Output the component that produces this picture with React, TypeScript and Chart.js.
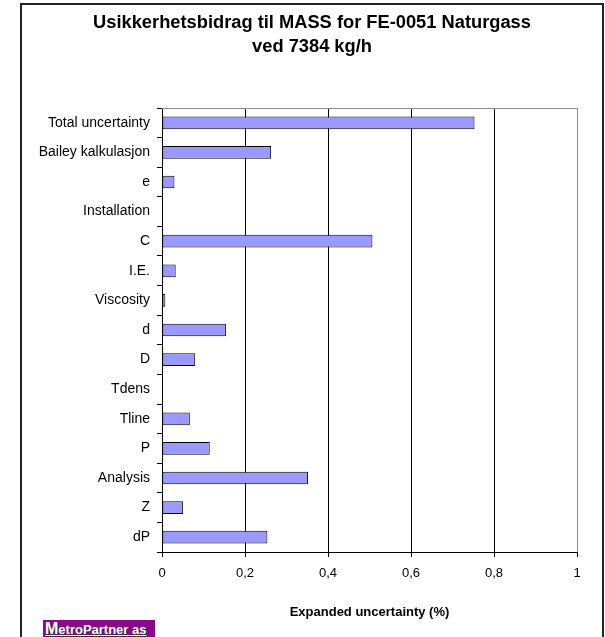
import React, { useEffect, useRef } from "react";
import { Chart, registerables } from "chart.js";

Chart.register(...registerables);

const categories = [
  "Total uncertainty",
  "Bailey kalkulasjon",
  "e",
  "Installation",
  "C",
  "I.E.",
  "Viscosity",
  "d",
  "D",
  "Tdens",
  "Tline",
  "P",
  "Analysis",
  "Z",
  "dP",
];

const contributions = [
  0.753, 0.263, 0.03, 0, 0.507, 0.033, 0.008, 0.154, 0.08, 0, 0.067, 0.115,
  0.352, 0.051, 0.254,
];

const titleLines = ["Usikkerhetsbidrag til MASS for FE-0051 Naturgass", "ved 7384 kg/h"];
const axisTitle = "Expanded uncertainty (%)";
const xMin = 0;
const xMax = 1;
const xStep = 0.2;

const FONT = "'Liberation Sans', Arial, sans-serif";

// two-line heading centred across the whole canvas, plus a grey top edge on the plot area
const headingAndFrame = {
  id: "headingAndFrame",
  afterDatasetsDraw(chart: any) {
    const { ctx, chartArea } = chart;
    ctx.save();
    ctx.strokeStyle = "#8c8c8c";
    ctx.lineWidth = 1;
    ctx.beginPath();
    ctx.moveTo(chartArea.left, Math.round(chartArea.top) + 0.5);
    ctx.lineTo(chartArea.right, Math.round(chartArea.top) + 0.5);
    ctx.stroke();
    ctx.restore();
  },
  afterDraw(chart: any) {
    const { ctx, width } = chart;
    ctx.save();
    ctx.fillStyle = "#000";
    ctx.font = `bold 18.3px ${FONT}`;
    ctx.textAlign = "center";
    ctx.textBaseline = "alphabetic";
    titleLines.forEach((line, i) => {
      ctx.fillText(line, width / 2, 23 + i * 24);
    });
    ctx.restore();
  },
};

export default function App() {
  const canvasRef = useRef<HTMLCanvasElement | null>(null);

  useEffect(() => {
    if (!canvasRef.current) return;
    const chart = new Chart(canvasRef.current, {
      type: "bar",
      data: {
        labels: categories,
        datasets: [
          {
            data: contributions,
            backgroundColor: "#9999ff",
            borderColor: "#000",
            borderWidth: 1,
            borderSkipped: false,
            barPercentage: 0.43,
            categoryPercentage: 1,
          },
        ],
      },
      plugins: [headingAndFrame],
      options: {
        indexAxis: "y",
        animation: false,
        responsive: false,
        maintainAspectRatio: false,
        devicePixelRatio: 1,
        layout: { padding: { left: 0, right: 25, top: 103, bottom: 0 } },
        plugins: {
          legend: { display: false },
          tooltip: { enabled: false },
          title: { display: false },
        },
        scales: {
          x: {
            min: xMin,
            max: xMax,
            afterFit(scale: any) {
              scale.height = 85;
            },
            ticks: {
              stepSize: xStep,
              color: "#000",
              padding: 9,
              font: { family: FONT, size: 13 },
              callback: (v: any) => String(Math.round(Number(v) * 10) / 10).replace(".", ","),
            },
            grid: {
              drawOnChartArea: true,
              drawTicks: true,
              tickLength: 5,
              color: (c: any) => (c.tick && c.tick.value === xMax ? "#8c8c8c" : "#000"),
              tickColor: "#000",
              lineWidth: 1,
            },
            border: { display: true, color: "#000", width: 1 },
            title: {
              display: true,
              text: axisTitle,
              color: "#000",
              font: { family: FONT, size: 13, weight: "bold" },
              padding: { top: 4, bottom: 17 },
            },
          },
          y: {
            afterFit(scale: any) {
              scale.width = 140;
            },
            ticks: {
              color: "#000",
              padding: 7,
              font: { family: FONT, size: 14 },
              autoSkip: false,
            },
            grid: {
              offset: true,
              drawOnChartArea: false,
              drawTicks: true,
              tickLength: 5,
              color: "#000",
            },
            border: { display: true, color: "#000", width: 1 },
          },
        },
      },
    });
    return () => chart.destroy();
  }, []);

  return (
    <div
      style={{
        position: "fixed",
        left: 0,
        top: 0,
        width: 605,
        height: 637,
        overflow: "hidden",
        background: "#fff",
      }}
    >
      <div
        style={{
          position: "absolute",
          left: 20,
          top: 3,
          width: 580,
          height: 700,
          border: "2px solid #222",
        }}
      />
      <canvas
        ref={canvasRef}
        width={580}
        height={632}
        style={{ position: "absolute", left: 22, top: 5, width: 580, height: 632 }}
      />
      <div
        style={{
          position: "absolute",
          left: 43,
          top: 620,
          width: 112,
          height: 20,
          background: "#8b088b",
          color: "#fff",
          fontFamily: FONT,
          fontWeight: "bold",
          fontSize: 13,
          lineHeight: "17px",
          paddingLeft: 2,
          boxSizing: "border-box",
          whiteSpace: "nowrap",
          textShadow: "1px 1px 0 #333",
          textDecoration: "underline",
        }}
      >
        <span style={{ fontSize: 16 }}>M</span>etroPartner as
      </div>
    </div>
  );
}
